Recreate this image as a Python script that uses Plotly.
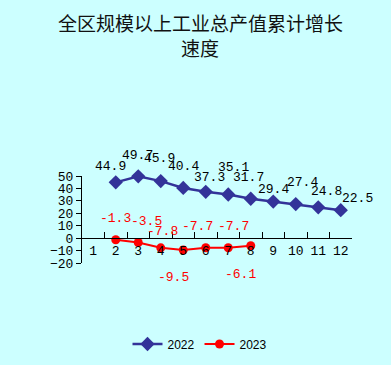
import plotly.graph_objects as go

months = [str(i) for i in range(1, 13)]
x2022 = ["2", "3", "4", "5", "6", "7", "8", "9", "10", "11", "12"]
v2022 = [44.9, 49.7, 45.9, 40.4, 37.3, 35.1, 31.7, 29.4, 27.4, 24.8, 22.5]
x2023 = ["2", "3", "4", "5", "6", "7", "8"]
v2023 = [-1.3, -3.5, -7.8, -9.5, -7.7, -7.7, -6.1]
y_ticks = [50, 40, 30, 20, 10, 0, -10, -20]
title_lines = ["全区规模以上工业总产值累计增长", "速度"]

# label offsets in pixels (style only)
off2022 = [(-5, 16), (-1, 21), (-1, 23), (0, 21), (4, 14), (5, 27), (-2, 21),
           (0, 12), (7, 22), (8, 16), (17, 12)]
off2023 = [(0, 21), (8, 21), (2, 16), (-10, -28), (-8, 21), (5, 21), (-10, -29)]

BLUE = "#333399"
RED = "#ff0000"
MONO = "Liberation Mono, DejaVu Sans Mono, monospace"

fig = go.Figure()
fig.add_trace(go.Scatter(x=x2022, y=v2022, name="2022", mode="lines+markers",
                         line=dict(color=BLUE, width=2.5),
                         marker=dict(symbol="diamond", size=11, color=BLUE),
                         cliponaxis=False))
fig.add_trace(go.Scatter(x=x2023, y=v2023, name="2023", mode="lines+markers",
                         line=dict(color=RED, width=2),
                         marker=dict(symbol="circle", size=9, color=RED),
                         cliponaxis=False))

ann = []
for x, v, (dx, dy) in zip(x2022, v2022, off2022):
    ann.append(dict(x=months.index(x), y=v, text=f"{v}", showarrow=False,
                    xshift=dx, yshift=dy,
                    font=dict(family=MONO, size=13, color="#000000")))
for x, v, (dx, dy) in zip(x2023, v2023, off2023):
    ann.append(dict(x=months.index(x), y=v, text=f"{v}", showarrow=False,
                    xshift=dx, yshift=dy,
                    font=dict(family=MONO, size=13, color=RED)))
# title lines (plot area spans 176..263 px from top => paper = (263 - px) / 87)
for txt, py in zip(title_lines, [23, 47]):
    ann.append(dict(xref="paper", yref="paper", x=(200 - 82) / 270, y=(263 - py) / 87,
                    text=txt, showarrow=False, xanchor="center", yanchor="middle",
                    font=dict(family="Noto Sans CJK SC", size=19, color="#111111")))

fig.update_layout(
    width=391, height=365,
    paper_bgcolor="#ccffff", plot_bgcolor="#ccffff",
    margin=dict(l=82, r=39, t=176, b=102, autoexpand=False),
    showlegend=True,
    legend=dict(orientation="h", x=(200 - 82) / 270, xanchor="center",
                y=(263 - 344) / 87, yanchor="middle",
                font=dict(family="Liberation Sans, Arial", size=12, color="#000000"),
                bgcolor="rgba(0,0,0,0)"),
    annotations=ann,
    xaxis=dict(type="category", categoryorder="array", categoryarray=months,
               range=[-0.5, 11.5], anchor="free", position=20 / 70,
               showline=True, linecolor="#000000", linewidth=1,
               ticks="inside", tickson="boundaries", ticklen=6, tickcolor="#000000",
               tickangle=0,
               showgrid=False, zeroline=False, automargin=False,
               tickfont=dict(family=MONO, size=13, color="#000000")),
    yaxis=dict(range=[-20, 50], tickvals=y_ticks, ticks="outside", ticklen=5,
               tickcolor="#000000", showline=True, linecolor="#000000", linewidth=1,
               showgrid=False, zeroline=False, automargin=False,
               tickfont=dict(family=MONO, size=13, color="#000000")),
)

fig.write_html("out.html", config={"displayModeBar": False},
               post_script="document.body.style.margin='0';document.body.style.overflow='hidden';")
